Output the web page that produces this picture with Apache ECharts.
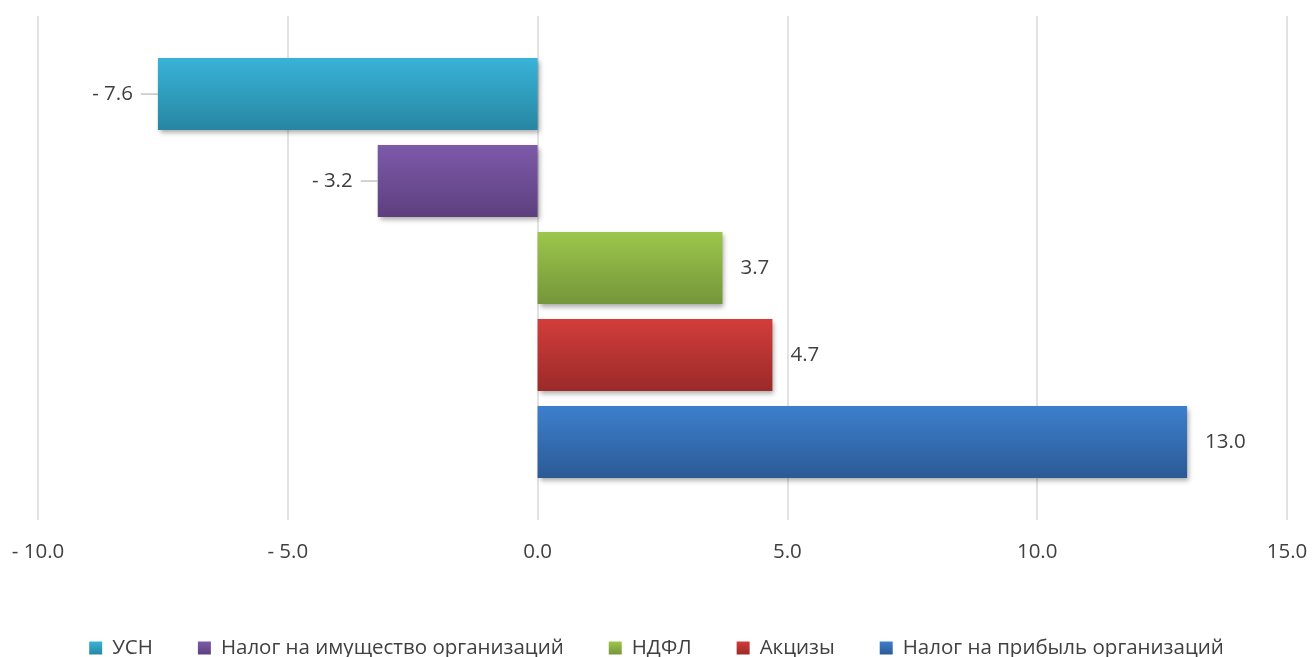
<!DOCTYPE html>
<html>
<head>
<meta charset="utf-8">
<script src="https://cdn.jsdelivr.net/npm/echarts@6/dist/echarts.min.js"></script>
<style>
  html, body { margin: 0; padding: 0; background: #fff; }
  #chart { width: 1313px; height: 657px; }
</style>
</head>
<body>
<div id="chart"></div>
<script>
// tax names and their change values
const taxNames = ['УСН', 'Налог на имущество организаций', 'НДФЛ', 'Акцизы', 'Налог на прибыль организаций']
const taxValues = [-7.6, -3.2, 3.7, 4.7, 13.0]
const axisMin = -10
const axisMax = 15
const axisStep = 5

// top / bottom colours of each bar gradient
const topColors = ['#38b3d8', '#7d5aaa', '#9cc64b', '#d23d3b', '#3d7fcd']
const bottomColors = ['#2786a1', '#5d3f7e', '#75963a', '#9b2a29', '#2b5a95']

const fmt = v => (v < 0 ? '- ' + Math.abs(v).toFixed(1) : v.toFixed(1))

const chart = echarts.init(document.getElementById('chart'))

const series = taxNames.map((name, i) => {
    const v = taxValues[i]
    return {
        name: name,
        type: 'bar',
        data: [v],
        barWidth: 72,
        barGap: '20.8%',
        itemStyle: {
            color: new echarts.graphic.LinearGradient(0, 0, 0, 1, [
                {offset: 0, color: topColors[i]},
                {offset: 1, color: bottomColors[i]}
            ]),
            shadowColor: 'rgba(0,0,0,0.35)',
            shadowBlur: 5,
            shadowOffsetX: 2,
            shadowOffsetY: 3
        },
        label: {
            show: true,
            position: v < 0 ? 'left' : 'right',
            distance: v < 0 ? 0 : 18,
            formatter: p => v < 0 ? '{t|' + fmt(p.value) + '}{l|}' : fmt(p.value),
            color: '#404040',
            fontFamily: 'Open Sans',
            fontSize: 20.5,
            rich: {
                t: {
                    color: '#404040',
                    fontFamily: 'Open Sans',
                    fontSize: 20.5,
                    padding: [0, 8, 0, 0]
                },
                l: {
                    width: 17,
                    height: 1,
                    backgroundColor: '#a6a6a6',
                    verticalAlign: 'middle'
                }
            }
        }
    }
})

chart.setOption({
    backgroundColor: '#ffffff',
    animation: false,
    grid: {
        left: 38,
        right: 26,
        top: 16,
        bottom: 137
    },
    legend: {
        data: taxNames,
        left: 'center',
        top: 632,
        icon: 'rect',
        itemWidth: 13,
        itemHeight: 13,
        itemGap: 45,
        itemStyle: {
            shadowBlur: 0,
            shadowOffsetX: 0,
            shadowOffsetY: 0
        },
        textStyle: {
            color: '#404040',
            fontFamily: 'Open Sans',
            fontSize: 20.5,
            lineHeight: 22,
            padding: [0, 0, 0, 5]
        }
    },
    xAxis: {
        type: 'value',
        min: axisMin,
        max: axisMax,
        interval: axisStep,
        axisLine: {show: false},
        axisTick: {show: false},
        axisLabel: {
            formatter: v => fmt(v),
            color: '#404040',
            fontFamily: 'Open Sans',
            fontSize: 20.5,
            margin: 22
        },
        splitLine: {
            show: true,
            lineStyle: {color: '#d9d9d9', width: 1.5}
        }
    },
    yAxis: {
        type: 'category',
        data: [''],
        inverse: true,
        axisLine: {show: false},
        axisTick: {show: false},
        axisLabel: {show: false},
        splitLine: {show: false}
    },
    series: series
})
</script>
</body>
</html>
